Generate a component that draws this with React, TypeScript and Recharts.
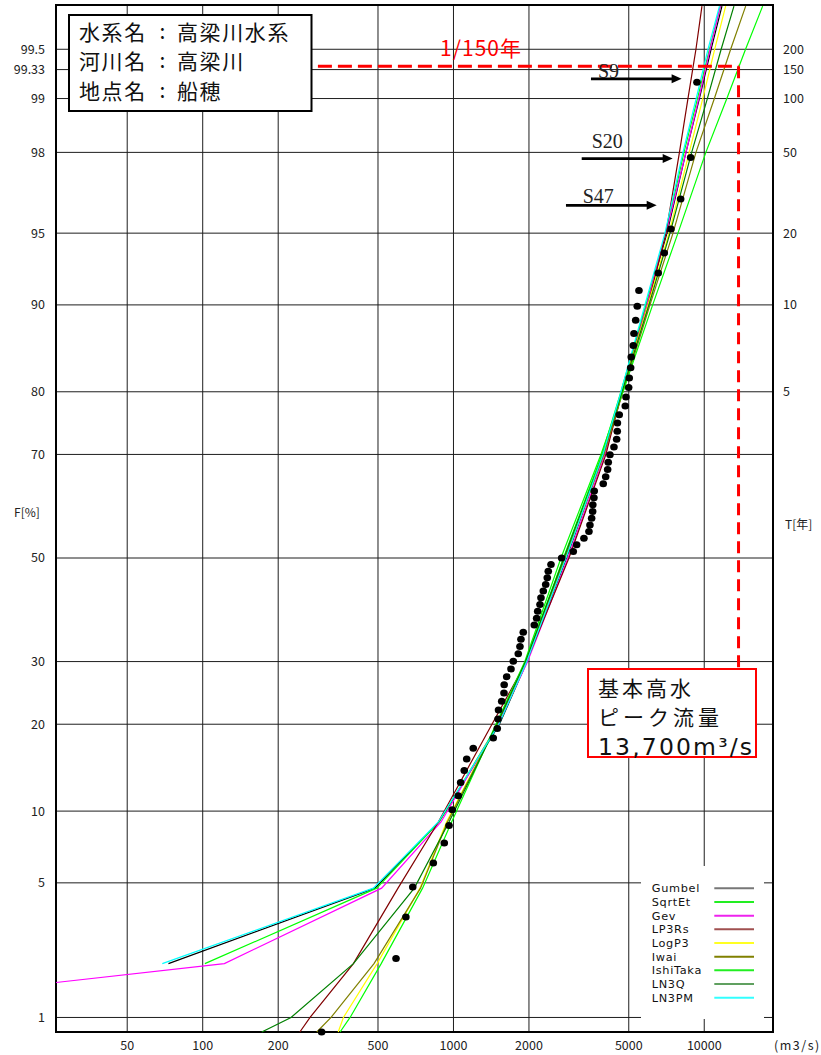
import React from 'react';
import {
  ComposedChart,
  Line,
  Scatter,
  XAxis,
  YAxis,
  CartesianGrid,
  ReferenceLine,
  ReferenceArea,
  Legend,
} from 'recharts';

const W = 821;
const H = 1055;

// ---------- axes ----------
const xTicks = [50, 100, 200, 500, 1000, 2000, 5000, 10000];
const xDomain: [number, number] = [26, 18800];
const fTicks = [1, 5, 10, 20, 30, 50, 70, 80, 90, 95, 98, 99, 99.33, 99.5];
const fTickLabels = ['1', '5', '10', '20', '30', '50', '70', '80', '90', '95', '98', '99', '99.33', '99.5'];
const tTickF = [80, 90, 95, 98, 99, 99.33, 99.5];
const tTickLabels = ['5', '10', '20', '50', '100', '150', '200'];
const zDomain: [number, number] = [-2.4, 2.8];

// ---------- fitted curves: discharge (m3/s) at non-exceedance levels F[%] ----------
const levelF = [0.82, 1, 1.58, 2, 4.73, 9.07, 20, 30, 50, 70, 80, 90, 95, 98, 99, 99.5, 99.74];

const qGumbel = [null, null, null, 73, 486, 876, 1525, 1965, 2822, 3964, 4676, 5882, 7101, 8453, 9561, 10645, 11766];
const qSqrtEt = [null, null, null, 102, 494, 876, 1504, 1940, 2745, 3909, 4654, 5855, 7036, 8301, 9396, 10489, 11604];
const qGev = [null, null, 26, 122, 517, 892, 1504, 1975, 2861, 4019, 4718, 5909, 7036, 8453, 9509, 10546, 11604];
const qLP3Rs = [244, 268, null, 399, 601, 870, 1424, 1955, 2887, 4055, 4697, 5964, 7036, 7963, 8610, 9266, 9791];
const qLogP3 = [347, 364, null, 496, 735, 938, 1491, 1940, 2797, 3964, 4697, 5964, 7234, 8713, 9863, 11003, 12171];
const qIwai = [285, 325, null, 482, 739, 946, 1491, 1940, 2784, 3983, 4740, 6075, 7505, 9266, 10973, 12745, 14629];
const qIshiTaka = [353, 387, null, 515, 753, 983, 1477, 1925, 2683, 3873, 4740, 6227, 7855, 10148, 12306, 14612, 17097];
const qLN3Q = [172, 225, null, 399, 698, 960, 1491, 1940, 2758, 3946, 4697, 6019, 7301, 8909, 10289, 11679, 13135];
const qLN3PM = [null, null, null, 69, 479, 870, 1518, 1960, 2809, 3946, 4654, 5801, 6972, 8225, 9283, 10347, 11497];

const seriesNames = ['Gumbel', 'SqrtEt', 'Gev', 'LP3Rs', 'LogP3', 'Iwai', 'IshiTaka', 'LN3Q', 'LN3PM'];
const seriesQ = [qGumbel, qSqrtEt, qGev, qLP3Rs, qLogP3, qIwai, qIshiTaka, qLN3Q, qLN3PM];
const seriesColors = ['#000000', '#00ff00', '#ff00ff', '#800000', '#ffff00', '#808000', '#00ff00', '#008000', '#00ffff'];
const legendColors = ['#777777', '#22ee22', '#ee22ee', '#a05050', '#ffff22', '#808000', '#22ee22', '#60a060', '#33ffff'];

// ---------- observed annual maxima (plotting positions) ----------
const dotF = [
  0.82, 2.13, 3.46, 4.79, 6.12, 7.45, 8.78, 10.11, 11.44, 12.77,
  14.10, 15.43, 16.76, 18.09, 19.41, 20.74, 22.07, 23.40, 24.73, 26.06,
  27.39, 28.72, 30.05, 31.38, 32.71, 34.04, 35.37, 36.70, 38.03, 39.36,
  40.69, 42.02, 43.35, 44.68, 46.01, 47.34, 48.67, 50.00, 51.33, 52.66,
  53.99, 55.32, 56.65, 57.98, 59.31, 60.64, 61.97, 63.30, 64.63, 65.96,
  67.29, 68.62, 69.95, 71.28, 72.61, 73.94, 75.27, 76.60, 77.93, 79.26,
  80.59, 81.91, 83.24, 84.57, 85.90, 87.23, 88.56, 89.89, 91.22, 92.55,
  93.88, 95.21, 96.54, 97.87, 99.20,
];
const dotQ = [
  298, 590, 646, 688, 831, 919, 960, 989, 1045, 1068,
  1104, 1129, 1199, 1441, 1495, 1505, 1512, 1557, 1590, 1593,
  1630, 1696, 1732, 1813, 1841, 1858, 1898, 2100, 2146, 2167,
  2213, 2233, 2281, 2332, 2366, 2388, 2448, 2700, 3004, 3099,
  3313, 3469, 3501, 3556, 3589, 3595, 3632, 3642, 3956, 4045,
  4119, 4142, 4207, 4365, 4474, 4499, 4505, 4582, 4842, 4874,
  4996, 5023, 5088, 5116, 5211, 5245, 5328, 5407, 5491, 6555,
  6928, 7366, 8052, 8827, 9352,
];

// ---------- annotations ----------
const designQ = 13700; // 基本高水ピーク流量
const designF = 99.36; // 1/150
const designLineStartQ = 288;
const designBoxTopF = 28.9;

const arrowLabels = ['S9', 'S20', 'S47'];
const arrowFromQ = [3534, 3246, 2809];
const arrowToQ = [8125, 7482, 6460];
const arrowF = [99.237, 97.843, 96.292];
const arrowLabelOffset = [
  [7, -1],
  [10, -10.7],
  [16.7, -2.4],
];

const infoRows = [
  ['水系名', '高梁川水系'],
  ['河川名', '高梁川'],
  ['地点名', '船穂'],
];
const designBoxLines = ['基本高水', 'ピーク流量', '13,700m³/s'];

// ---------- helpers ----------
function probit(p: number): number {
  const a = [-3.969683028665376e1, 2.209460984245205e2, -2.759285104469687e2, 1.38357751867269e2, -3.066479806614716e1, 2.506628277459239];
  const b = [-5.447609879822406e1, 1.615858368580409e2, -1.556989798598866e2, 6.680131188771972e1, -1.328068155288572e1];
  const c = [-7.784894002430293e-3, -3.223964580411365e-1, -2.400758277161838, -2.549732539343734, 4.374664141464968, 2.938163982698783];
  const d = [7.784695709041462e-3, 3.224671290700398e-1, 2.445134137142996, 3.754408661907416];
  const pl = 0.02425;
  const ph = 1 - pl;
  if (p < pl) {
    const q = Math.sqrt(-2 * Math.log(p));
    return (((((c[0] * q + c[1]) * q + c[2]) * q + c[3]) * q + c[4]) * q + c[5]) / ((((d[0] * q + d[1]) * q + d[2]) * q + d[3]) * q + 1);
  }
  if (p > ph) {
    const q = Math.sqrt(-2 * Math.log(1 - p));
    return -(((((c[0] * q + c[1]) * q + c[2]) * q + c[3]) * q + c[4]) * q + c[5]) / ((((d[0] * q + d[1]) * q + d[2]) * q + d[3]) * q + 1);
  }
  const q = p - 0.5;
  const r = q * q;
  return ((((((a[0] * r + a[1]) * r + a[2]) * r + a[3]) * r + a[4]) * r + a[5]) * q) / (((((b[0] * r + b[1]) * r + b[2]) * r + b[3]) * r + b[4]) * r + 1);
}
const toZ = (fPct: number) => probit(fPct / 100);

const fTickZ = fTicks.map(toZ);
const tTickZ = tTickF.map(toZ);
const nearestLabel = (zs: number[], labels: string[]) => (v: number) => {
  let best = 0;
  for (let i = 1; i < zs.length; i++) if (Math.abs(zs[i] - v) < Math.abs(zs[best] - v)) best = i;
  return labels[best];
};

const seriesData = seriesQ.map((qs) =>
  levelF
    .map((f, i) => ({ f, q: qs[i] }))
    .filter((d) => d.q != null)
    .map((d) => ({ q: d.q as number, z: toZ(d.f) }))
);
const dotData = dotQ.map((q, i) => ({ q, z: toZ(dotF[i]) }));

const tickStyle = { fontSize: 12.5, fontFamily: 'Noto Sans CJK JP', fill: '#222' };

const renderLegend = () => (
  <svg width={123} height={153} style={{ display: 'block', background: '#fff' }}>
    {seriesNames.map((name, i) => {
      const cy = 22.3 + i * 13.67;
      return (
        <g key={name}>
          <text x={10.7} y={cy + 4} fontFamily="DejaVu Sans" fontSize={11.3} letterSpacing={0.7} fill="#111">
            {name}
          </text>
          <line x1={73.3} x2={113} y1={cy} y2={cy} stroke={legendColors[i]} strokeWidth={2} />
        </g>
      );
    })}
  </svg>
);

const makeArrow = (label: string, dx: number, dy: number) => (props: any) => {
  const { x1, y1, x2, y2 } = props;
  const head = 10;
  const half = 4.5;
  return (
    <g>
      <line x1={x1} y1={y1} x2={x2 - head + 1} y2={y2} stroke="#000" strokeWidth={2.6} />
      <polygon points={`${x2},${y2} ${x2 - head},${y2 - half} ${x2 - head},${y2 + half}`} fill="#000" />
      <text x={x1 + dx} y={y1 + dy} fontFamily="Liberation Serif" fontSize={20} fill="#222">
        {label}
      </text>
    </g>
  );
};

const fLabel = (p: any) => {
  const vb = p && p.viewBox ? p.viewBox : { x: 0, y: 5, width: 56, height: 1027 };
  return (
    <text x={vb.x + vb.width / 2 - 1} y={vb.y + vb.height / 2 - 1.5} textAnchor="middle" fontSize={12} fontFamily="Noto Sans CJK JP" fill="#222">
      F[%]
    </text>
  );
};
const tLabel = (p: any) => {
  const vb = p && p.viewBox ? p.viewBox : { x: 773, y: 5, width: 48, height: 1027 };
  return (
    <text x={vb.x + 12} y={vb.y + vb.height / 2 + 10} textAnchor="start" fontSize={12} fontFamily="Noto Sans CJK JP" fill="#222">
      T[年]
    </text>
  );
};
const unitLabel = (p: any) => {
  const vb = p && p.viewBox ? p.viewBox : { x: 56, y: 1032, width: 717, height: 23 };
  return (
    <text x={vb.x + vb.width + 1} y={vb.y + 17.5} textAnchor="start" fontSize={12.5} letterSpacing={1.5} fontFamily="Noto Sans CJK JP" fill="#222">
      (m3/s)
    </text>
  );
};

export default function App() {
  const zDesign = toZ(designF);
  return (
    <div style={{ position: 'absolute', left: 0, top: 0, width: W, height: H, background: '#fff' }}>
      <ComposedChart width={W} height={H} margin={{ top: 5, right: 0, bottom: 0, left: 0 }}>
        <CartesianGrid stroke="#1e1e1e" strokeWidth={1} />
        <XAxis
          dataKey="q"
          type="number"
          scale="log"
          domain={xDomain}
          ticks={xTicks}
          interval={0}
          height={23}
          tickLine={false}
          axisLine={false}
          tickSize={0}
          tickMargin={9}
          tick={tickStyle}
          label={unitLabel}
        />
        <YAxis
          dataKey="z"
          type="number"
          domain={zDomain}
          ticks={fTickZ}
          interval={0}
          width={56}
          tickLine={false}
          axisLine={false}
          tickSize={0}
          tickMargin={11}
          tick={tickStyle}
          tickFormatter={nearestLabel(fTickZ, fTickLabels)}
          label={fLabel}
        />
        <YAxis
          yAxisId="right"
          orientation="right"
          type="number"
          domain={zDomain}
          allowDataOverflow
          ticks={tTickZ}
          interval={0}
          width={48}
          tickLine={false}
          axisLine={false}
          tickSize={0}
          tickMargin={10}
          tick={tickStyle}
          tickFormatter={nearestLabel(tTickZ, tTickLabels)}
          label={tLabel}
        />
        <ReferenceArea
          x1={xDomain[0]}
          x2={xDomain[1]}
          y1={zDomain[0]}
          y2={zDomain[1]}
          fill="none"
          fillOpacity={0}
          stroke="#000"
          strokeWidth={2}
          ifOverflow="visible"
        />
        <Scatter
          name="obs"
          data={dotData}
          isAnimationActive={false}
          shape={(p: any) => <ellipse cx={p.cx} cy={p.cy} rx={3.8} ry={3.5} fill="#000" />}
          legendType="none"
        />
        {seriesData.map((data, i) => (
          <Line
            key={seriesNames[i]}
            name={seriesNames[i]}
            data={data}
            dataKey="z"
            type="linear"
            stroke={seriesColors[i]}
            strokeWidth={1.2}
            dot={false}
            activeDot={false}
            isAnimationActive={false}
          />
        ))}
        <ReferenceLine
          segment={[
            { x: designLineStartQ, y: zDesign },
            { x: designQ, y: zDesign },
          ]}
          stroke="#ff0000"
          strokeWidth={3}
          strokeDasharray="14 6"
          ifOverflow="visible"
        />
        <ReferenceLine
          segment={[
            { x: designQ, y: zDesign },
            { x: designQ, y: toZ(designBoxTopF) },
          ]}
          stroke="#ff0000"
          strokeWidth={3}
          strokeDasharray="12 7"
          ifOverflow="visible"
        />
        {arrowLabels.map((label, i) => (
          <ReferenceLine
            key={label}
            segment={[
              { x: arrowFromQ[i], y: toZ(arrowF[i]) },
              { x: arrowToQ[i], y: toZ(arrowF[i]) },
            ]}
            ifOverflow="visible"
            shape={makeArrow(label, arrowLabelOffset[i][0], arrowLabelOffset[i][1])}
          />
        ))}
        <Legend
          layout="vertical"
          align="center"
          verticalAlign="middle"
          content={renderLegend}
          wrapperStyle={{ left: 641, top: 866, width: 123, height: 153, backgroundColor: '#fff' }}
        />
      </ComposedChart>
      <svg width={W} height={H} style={{ position: 'absolute', left: 0, top: 0, pointerEvents: 'none' }}>
        <rect x={69} y={15} width={242.5} height={96} fill="#fff" stroke="#000" strokeWidth={2} />
        {infoRows.map((row, i) => {
          const base = 40.3 + i * 29.1;
          return (
            <g key={row[0]} fontFamily="Noto Sans CJK JP" fontSize={21} fill="#111">
              <text x={79} y={base} letterSpacing={1.6}>
                {row[0]}
              </text>
              <text x={162.5} y={base - 1} textAnchor="middle">
                :
              </text>
              <text x={177} y={base} letterSpacing={1.6}>
                {row[1]}
              </text>
            </g>
          );
        })}
        <text x={440} y={56} fill="#ff0000" fontSize={21} fontFamily="Noto Sans CJK JP" textLength={81} lengthAdjust="spacing">
          1/150年
        </text>
        <rect x={588} y={669} width={168} height={88} fill="#fff" stroke="#ff0000" strokeWidth={2} />
        <text x={598} y={695.5} fontSize={21} fontFamily="Noto Sans CJK JP" fill="#111" textLength={93} lengthAdjust="spacing">
          {designBoxLines[0]}
        </text>
        <text x={598} y={725} fontSize={21} fontFamily="Noto Sans CJK JP" fill="#111" textLength={121} lengthAdjust="spacing">
          {designBoxLines[1]}
        </text>
        <text x={598} y={754.5} fontSize={23.5} fontFamily="DejaVu Sans" fill="#111" textLength={154} lengthAdjust="spacing">
          {designBoxLines[2]}
        </text>
      </svg>
    </div>
  );
}
